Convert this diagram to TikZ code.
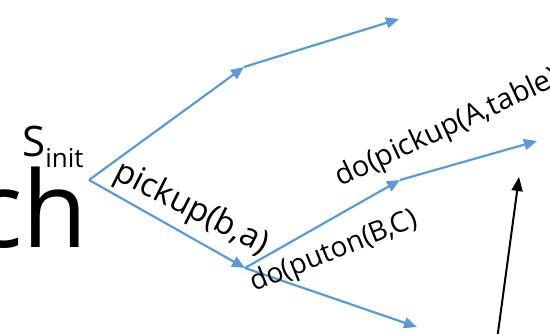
\documentclass[tikz,border=0pt]{standalone}
\usepackage{fontspec}
\setmainfont{Open Sans}
\usetikzlibrary{arrows.meta,positioning}
\definecolor{arcblue}{RGB}{91,155,213}

\tikzset{
  arc/.style={arcblue, line width=2.2pt, -{Triangle[length=13pt,width=11pt]}},
  ptr/.style={black, line width=2pt, -{Triangle[length=14pt,width=11pt]}},
  lbl/.style={inner sep=0pt},
}

\begin{document}
\begin{tikzpicture}[x=1pt,y=1pt]
\clip (0,0) rectangle (550,334);
% states of the search tree
\coordinate (s0) at (89,154);
\coordinate (b1) at (244,267);
\coordinate (b2) at (399,315);
\coordinate (a1) at (245,66);
\coordinate (c1) at (400,154);
\coordinate (c2) at (537,193);
\coordinate (d1) at (417,7);
% big word behind the root
\node[font=\fontsize{106}{106}\selectfont, anchor=base east, inner sep=0pt] (word) at (88,86) {ch};
\node[anchor=base west, inner sep=0pt] (init) at (22,177)
  {\fontsize{42}{42}\selectfont S\raisebox{-11pt}{\fontsize{26}{26}\selectfont init}};
% branches
\draw[arc] (s0) -- (b1);
\draw[arc] (b1) -- (b2);
\draw[arc] (s0) -- (a1);
\node[lbl, font=\fontsize{33}{33}\selectfont, rotate=-27, anchor=base west] (pick) at (112,156) {pickup(b,a)};
\draw[arc] (a1) -- (c1);
\draw[arc] (c1) -- (c2);
\draw[arc] (a1) -- (d1);
\node[lbl, font=\fontsize{28}{28}\selectfont, rotate=22, anchor=base west] (put) at (254,42) {do(puton(B,C)};
\node[lbl, font=\fontsize{29}{29}\selectfont, rotate=25, anchor=base west] (pickA) at (340,147) {do(pickup(A,table))};
% pointer from below
\coordinate (p0) at (497,-6);
\coordinate (p1) at (519,157);
\draw[ptr] (p0) -- (p1);
\end{tikzpicture}
\end{document}
